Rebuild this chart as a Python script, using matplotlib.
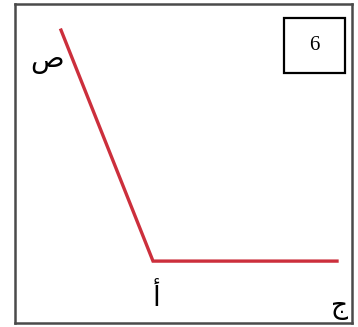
import matplotlib
matplotlib.use("Agg")
from matplotlib import pyplot as plt
from matplotlib.patches import Rectangle

# piecewise graph: falls from ص down to أ, then flat towards ج
x_vals = [0, 1, 3]
y_vals = [1, 0, 0]
corner_label = "أ"
y_label = "ص"
x_label = "ج"
box_number = "6"

fig = plt.figure(figsize=(3.58, 3.27), dpi=100)
ax = fig.add_axes([15 / 358, 4 / 327, 337 / 358, 319 / 327])
ax.plot(x_vals, y_vals, color="#cc2f3c", linewidth=2.4, solid_joinstyle="miter")
ax.set_xlim(-0.5, 3.163)
ax.set_ylim(-0.268, 1.113)
ax.set_xticks([])
ax.set_yticks([])
for s in ax.spines.values():
    s.set_color("#4a4a4a")
    s.set_linewidth(1.8)

# labels
ax.text(-0.15, 0.87, y_label, fontsize=20, family="DejaVu Sans", ha="center", va="center")
ax.text(1.04, -0.16, corner_label, fontsize=20, family="DejaVu Sans", ha="center", va="center")
ax.text(3.03, -0.2, x_label, fontsize=19, family="DejaVu Sans", ha="center", va="center")

# numbered box in the corner
box = Rectangle((284 / 358, 1 - 73 / 327), 61 / 358, 55 / 327, transform=fig.transFigure,
                fill=False, edgecolor="black", linewidth=1.6)
fig.patches.append(box)
fig.text(314 / 358, 1 - 45 / 327, box_number, fontsize=15, family="Liberation Serif",
         ha="center", va="center")

fig.savefig("out.png", dpi=100)
